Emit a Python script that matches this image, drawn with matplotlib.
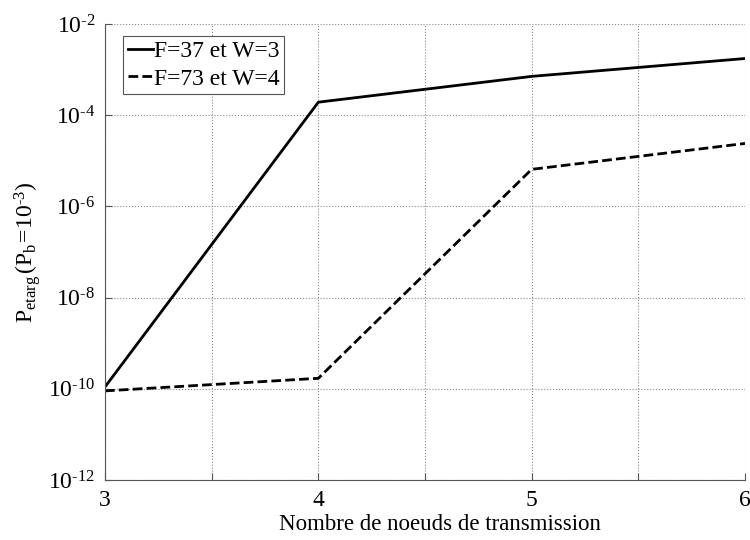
import math
import matplotlib
matplotlib.use("Agg")
import matplotlib.pyplot as plt
from matplotlib.ticker import FixedLocator, FuncFormatter, NullLocator

plt.rcParams['font.family'] = ['Liberation Serif', 'DejaVu Serif']
plt.rcParams['mathtext.fontset'] = 'custom'
plt.rcParams['mathtext.rm'] = 'Liberation Serif'
plt.rcParams['mathtext.it'] = 'Liberation Serif:italic'

nodes = [3, 4, 5, 6]
series1 = [1.1e-10, 1.93e-4, 7.1e-4, 1.75e-3]
series2 = [9.0e-11, 1.7e-10, 6.5e-6, 2.4e-5]
labels = ["F=37 et W=3", "F=73 et W=4"]
xlabel = "Nombre de noeuds de transmission"
ylabel = r"$\mathrm{P_{etarg}\,(P_b\!=\!10^{\text{-}3})}$"

fig = plt.figure(figsize=(7.5, 5.4), dpi=100)
ax = fig.add_axes([105/750, 60/540, 640/750, 456/540])

ax.plot(nodes, series1, color='black', lw=2, ls='-', label=labels[0])
ax.plot(nodes, series2, color='black', lw=2, ls=(0, (3.5, 1.5)), label=labels[1])
ax.set_yscale('log')
ax.set_xlim(3, 6)
ax.set_ylim(1e-12, 1e-2)

ax.xaxis.set_major_locator(FixedLocator([3, 3.5, 4, 4.5, 5, 5.5, 6]))
ax.xaxis.set_major_formatter(FuncFormatter(lambda v, p: f"{int(v)}" if float(v).is_integer() else ""))
ax.yaxis.set_major_locator(FixedLocator([1e-12, 1e-10, 1e-8, 1e-6, 1e-4, 1e-2]))
ax.yaxis.set_minor_locator(NullLocator())
ax.yaxis.set_major_formatter(FuncFormatter(
    lambda v, p: r"$\mathrm{10^{\text{-}%d}}$" % abs(round(math.log10(v)))))

ax.grid(True, which='major', ls=':', color='#888888', lw=0.8)
for s in ['top', 'right']:
    ax.spines[s].set_visible(False)
for s in ['left', 'bottom']:
    ax.spines[s].set_color('#555555')
ax.tick_params(direction='in', length=5, color='#555555', labelsize=17, pad=7)

ax.set_xlabel(xlabel, fontsize=16.5)
ax.xaxis.set_label_coords((440 - 105) / 640, -0.075)
ax.set_ylabel(ylabel, fontsize=17)

leg = ax.legend(loc='upper left', bbox_to_anchor=((123 - 105) / 640, 1 - (36 - 24) / 456),
                fontsize=17, handlelength=1.05, handletextpad=0.05,
                borderpad=0.2, labelspacing=0.25, fancybox=False, framealpha=1,
                edgecolor='#555555', borderaxespad=0)
leg.get_frame().set_linewidth(0.8)

fig.savefig("out.png", dpi=100)
